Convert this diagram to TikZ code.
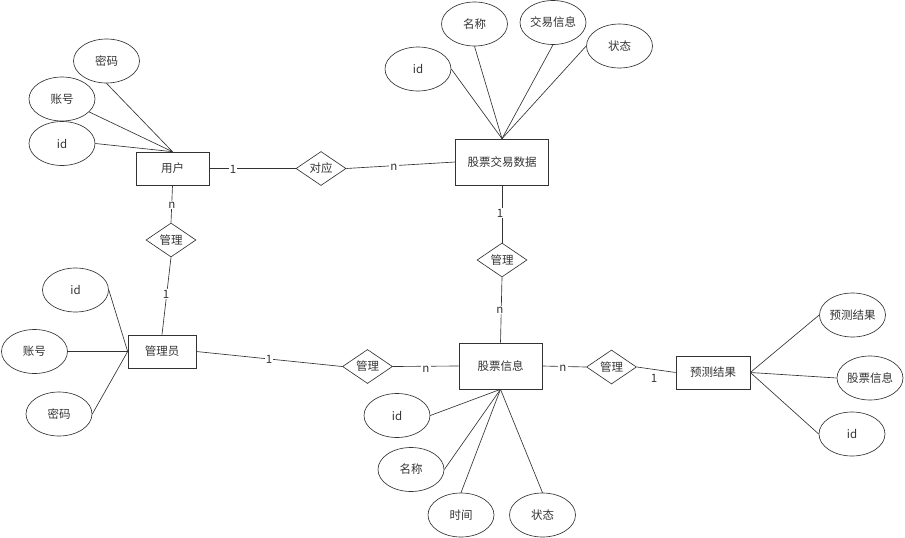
\documentclass[tikz,border=0pt]{standalone}
\usepackage{fontspec}
\setmainfont{Noto Sans CJK SC}
\usetikzlibrary{shapes, positioning}

\begin{document}
\begin{tikzpicture}[x=1pt, y=-1pt, color=black!80, line width=0.65pt,
		font=\fontsize{11.5}{13}\selectfont,
		entity/.style={draw, rectangle, inner sep=0pt},
		attr/.style={draw, ellipse, minimum width=66pt, minimum height=44pt, inner sep=0pt},
		rel/.style={draw, diamond, aspect=1.5, minimum width=50pt, minimum height=34pt, inner sep=0pt},
		card/.style={fill=white, inner sep=1pt}]
				\useasboundingbox (0, 0) rectangle (905, 538);

				% entities
				\node (User) [entity, minimum width=73pt, minimum height=33pt] at (172.5, 168.5) {用户};
				\node (Trade) [entity, minimum width=93pt, minimum height=46pt] at (502, 162) {股票交易数据};
				\node (Admin) [entity, minimum width=68pt, minimum height=33pt] at (162, 351.5) {管理员};
				\node (Stock) [entity, minimum width=83pt, minimum height=46pt] at (500.5, 366) {股票信息};
				\node (Pred) [entity, minimum width=74pt, minimum height=33pt] at (713, 372.5) {预测结果};

				% relations
				\node (RelMatch) [rel] at (321, 168.5) {对应};
				\node (RelUserAdmin) [rel] at (171, 240) {管理};
				\node (RelTradeStock) [rel] at (502, 260) {管理};
				\node (RelAdminStock) [rel] at (367.5, 366.5) {管理};
				\node (RelStockPred) [rel] at (611.5, 367) {管理};

				% attributes
				\node (UserPwd) [attr] at (106.5, 61) {密码};
				\node (UserAcc) [attr] at (62, 99) {账号};
				\node (UserId) [attr] at (62, 143.5) {id};

				\node (TradeId) [attr] at (418, 69) {id};
				\node (TradeName) [attr] at (474.5, 24) {名称};
				\node (TradeInfo) [attr] at (553, 22.5) {交易信息};
				\node (TradeState) [attr] at (619.5, 46) {状态};

				\node (AdminId) [attr] at (75.5, 290) {id};
				\node (AdminAcc) [attr] at (34.5, 351.5) {账号};
				\node (AdminPwd) [attr] at (59, 414) {密码};

				\node (StockId) [attr] at (397, 415.5) {id};
				\node (StockName) [attr] at (411, 469.5) {名称};
				\node (StockTime) [attr] at (461, 515) {时间};
				\node (StockState) [attr] at (542.5, 515) {状态};

				\node (PredRes) [attr] at (852.5, 315) {预测结果};
				\node (PredStock) [attr] at (870, 378) {股票信息};
				\node (PredId) [attr] at (852, 434) {id};

				% attribute lines
				\foreach \a in {UserPwd.south, UserAcc, UserId.east}
					\draw (\a) -- (User.north);
				\foreach \a in {TradeId.east, TradeName.south, TradeInfo.south, TradeState.west}
					\draw (\a) -- (Trade.north);
				\foreach \a in {AdminId.east, AdminAcc.east, AdminPwd.east}
					\draw (\a) -- (Admin.west);
				\foreach \a in {StockId.east, StockName.east, StockTime.north, StockState.north}
					\draw (\a) -- (Stock.south);
				\foreach \a in {PredRes.west, PredStock.west, PredId.west}
					\draw (\a) -- (Pred.east);

				% relation lines
				\draw (User.east) -- (RelMatch.west);
				\draw (RelMatch.east) -- (Trade.west);
				\draw (User.south) -- (RelUserAdmin.north);
				\draw (RelUserAdmin.south) -- (Admin.north);
				\draw (Trade.south) -- (RelTradeStock.north);
				\draw (RelTradeStock.south) -- (Stock.north);
				\draw (Admin.east) -- (RelAdminStock.west);
				\draw (RelAdminStock.east) -- (Stock.west);
				\draw (Stock.east) -- (RelStockPred.west);
				\draw (RelStockPred.east) -- (Pred.west);

				% cardinalities
				\node (CardUserMatch) [card] at (233, 169) {1};
				\node (CardMatchTrade) [card] at (394, 167) {n};
				\node (CardUserRel) [card] at (172, 205) {n};
				\node (CardAdminRel) [card] at (166, 294) {1};
				\node (CardTradeRel) [card] at (500, 213) {1};
				\node (CardStockTop) [card] at (500, 310) {n};
				\node (CardAdminStock) [card] at (269, 359) {1};
				\node (CardStockLeft) [card] at (426, 369) {n};
				\node (CardStockRight) [card] at (563, 368) {n};
				\node (CardPred) at (654, 378) {1};
			\end{tikzpicture}
\end{document}
